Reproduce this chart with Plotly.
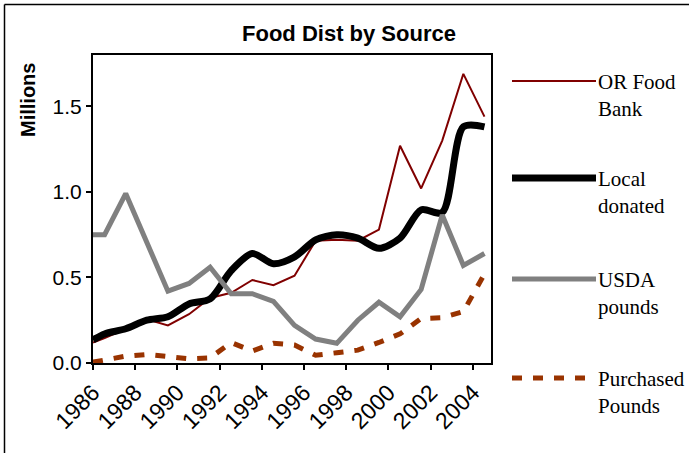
import plotly.graph_objects as go

# ---- data (millions of pounds) ----
fiscal_years = list(range(1986, 2005))
x_points = [1986.0] + [fy + 0.55 for fy in fiscal_years]

series_names = ["OR Food<br>Bank", "Local<br>donated", "USDA<br>pounds", "Purchased<br>Pounds"]

or_food_bank = [0.12, 0.145, 0.20, 0.255, 0.22, 0.285, 0.38, 0.41, 0.485, 0.455, 0.51,
                0.715, 0.72, 0.715, 0.78, 1.27, 1.02, 1.30, 1.69, 1.44]
local_donated = [0.135, 0.17, 0.20, 0.25, 0.27, 0.345, 0.375, 0.54, 0.64, 0.58, 0.62,
                 0.72, 0.75, 0.73, 0.67, 0.73, 0.895, 0.88, 1.38, 1.38]
usda_pounds = [0.75, 0.75, 0.99, 0.71, 0.42, 0.465, 0.56, 0.405, 0.405, 0.36, 0.22,
               0.14, 0.115, 0.25, 0.355, 0.27, 0.43, 0.865, 0.57, 0.64]
purchased_pounds = [0.005, 0.015, 0.04, 0.05, 0.035, 0.025, 0.03, 0.12, 0.07, 0.115, 0.105,
                    0.045, 0.06, 0.075, 0.12, 0.17, 0.26, 0.265, 0.30, 0.52]

x_tick_vals = [1986, 1988, 1990, 1992, 1994, 1996, 1998, 2000, 2002, 2004]
y_tick_vals = [0.0, 0.5, 1.0, 1.5]
y_tick_text = ["0.0", "0.5", "1.0", "1.5"]

# ---- figure geometry ----
W, H = 689, 453
PL, PR, PT, PB = 93, 491, 55, 363


def px_to_paper_x(px):
    return (px - PL) / (PR - PL)


def px_to_paper_y(py):
    return (PB - py) / (PB - PT)


styles = [
    dict(color="#800000", width=2, dash="solid", shape="linear"),
    dict(color="#000000", width=7, dash="solid", shape="spline"),
    dict(color="#808080", width=5, dash="solid", shape="linear"),
    dict(color="#993300", width=5, dash="10px,11px", shape="linear"),
]
values = [or_food_bank, local_donated, usda_pounds, purchased_pounds]

fig = go.Figure()
for name, vals, st in zip(series_names, values, styles):
    fig.add_trace(go.Scatter(
        x=x_points, y=vals, mode="lines", name=name.replace("<br>", " "),
        line=dict(color=st["color"], width=st["width"], dash=st["dash"],
                  shape=st["shape"], smoothing=0.8 if st["shape"] == "spline" else None),
        showlegend=False, cliponaxis=True,
    ))

shapes = []
annotations = []

# manual legend (long line samples like the reference)
legend_line_y = [81, 178, 279, 378]
for name, st, ly in zip(series_names, styles, legend_line_y):
    shapes.append(dict(
        type="line", xref="paper", yref="paper",
        x0=px_to_paper_x(512), x1=px_to_paper_x(596),
        y0=px_to_paper_y(ly), y1=px_to_paper_y(ly),
        line=dict(color=st["color"], width=st["width"],
                  dash=st["dash"] if st["dash"] != "solid" else None),
    ))
    annotations.append(dict(
        text=name, xref="paper", yref="paper",
        x=px_to_paper_x(596), y=px_to_paper_y(ly - 13),
        xanchor="left", yanchor="top", align="left", showarrow=False,
        font=dict(family="Liberation Serif", size=21, color="black"),
    ))

# chart-area border (top and left edges visible)
shapes.append(dict(type="line", xref="paper", yref="paper",
                   x0=px_to_paper_x(4.5), x1=px_to_paper_x(W + 5),
                   y0=px_to_paper_y(4.5), y1=px_to_paper_y(4.5),
                   line=dict(color="black", width=1.5)))
shapes.append(dict(type="line", xref="paper", yref="paper",
                   x0=px_to_paper_x(4.5), x1=px_to_paper_x(4.5),
                   y0=px_to_paper_y(4.5), y1=px_to_paper_y(H + 5),
                   line=dict(color="black", width=1.5)))

# y axis title
annotations.append(dict(
    text="<b>Millions</b>", xref="paper", yref="paper",
    x=px_to_paper_x(28), y=px_to_paper_y(100), textangle=-90,
    xanchor="center", yanchor="middle", showarrow=False,
    font=dict(family="Liberation Sans", size=20, color="black"),
))

fig.update_layout(
    width=W, height=H,
    margin=dict(l=PL, r=W - PR, t=PT, b=H - PB, pad=0),
    paper_bgcolor="white", plot_bgcolor="white",
    title=dict(text="<b>Food Dist by Source</b>", x=349 / W, xanchor="center",
               y=1 - 33 / H, yanchor="middle",
               font=dict(family="Liberation Sans", size=22, color="black")),
    xaxis=dict(range=[1986, 2004.86], tickmode="array", tickvals=x_tick_vals,
               ticktext=[str(v) for v in x_tick_vals], tickangle=-45,
               ticks="outside", ticklen=5, tickwidth=1.5, tickcolor="black",
               showline=True, linecolor="black", linewidth=2, mirror=True,
               showgrid=False, zeroline=False, automargin=False,
               tickfont=dict(family="Liberation Sans", size=23, color="black")),
    yaxis=dict(range=[0, 1.8], tickmode="array", tickvals=y_tick_vals, ticktext=y_tick_text,
               ticks="outside", ticklen=5, tickwidth=1.5, tickcolor="black",
               showline=True, linecolor="black", linewidth=2, mirror=True,
               showgrid=False, zeroline=False, automargin=False,
               tickfont=dict(family="Liberation Sans", size=21, color="black")),
    shapes=shapes, annotations=annotations,
)

fig.write_html("out.html", config={"displayModeBar": False},
               post_script="document.body.style.margin='0';")
